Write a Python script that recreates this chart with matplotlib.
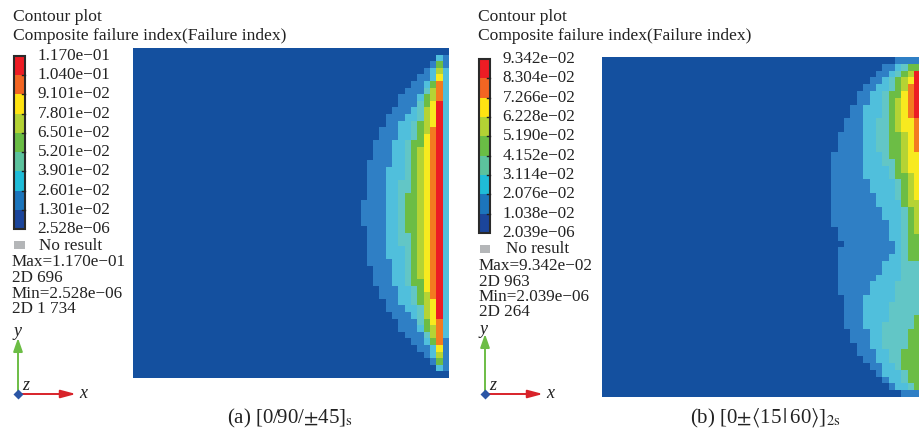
import numpy as np
import matplotlib
matplotlib.use("Agg")
import matplotlib.pyplot as plt
from matplotlib.colors import ListedColormap
from matplotlib.patches import Rectangle

plt.rcParams['font.family'] = ['Liberation Serif', 'DejaVu Serif']
plt.rcParams['mathtext.fontset'] = 'stix'

band_colors = ['#14509f', '#2f7fc5', '#50bfdc', '#62c6c6', '#6cbd45',
               '#b5d334', '#f8ea1f', '#f37a20', '#ec1c24']
bar_colors = ['#ed1c24', '#f26522', '#ffe312', '#b3d234', '#6abd45',
              '#5cc29d', '#1fbcd8', '#1c75bc', '#1b459b']

a_labels = ['1.170e−01', '1.040e−01', '9.101e−02', '7.801e−02', '6.501e−02',
            '5.201e−02', '3.901e−02', '2.601e−02', '1.301e−02', '2.528e−06']
b_labels = ['9.342e−02', '8.304e−02', '7.266e−02', '6.228e−02', '5.190e−02',
            '4.152e−02', '3.114e−02', '2.076e−02', '1.038e−02', '2.039e−06']
a_stats = ['Max=1.170e−01', '2D 696', 'Min=2.528e−06', '2D 1 734']
b_stats = ['Max=9.342e−02', '2D 963', 'Min=2.039e−06', '2D 264']

# first column of each band, one entry per element row (50 = band absent)
a_blue = [50, 48, 47, 46, 45, 44, 43, 42, 42, 41, 40, 40, 39, 39, 38, 38, 38, 37, 37, 37, 37, 37, 37, 36, 36,
          36, 36, 37, 37, 37, 37, 37, 37, 38, 38, 38, 39, 39, 40, 40, 41, 42, 42, 43, 44, 45, 46, 47, 48, 50]
a_cyan = [50, 48, 48, 47, 47, 46, 46, 45, 45, 44, 43, 42, 42, 42, 41, 41, 41, 41, 40, 40, 40, 40, 40, 40, 40,
          40, 40, 40, 40, 40, 40, 40, 41, 41, 41, 41, 42, 42, 42, 43, 44, 45, 45, 46, 46, 47, 47, 48, 48, 50]
a_teal = [50, 50, 48, 48, 48, 47, 46, 46, 45, 45, 45, 44, 44, 44, 43, 43, 43, 43, 43, 43, 42, 42, 42, 42, 42,
          42, 42, 42, 42, 42, 43, 43, 43, 43, 43, 43, 44, 44, 44, 45, 45, 45, 46, 46, 47, 48, 48, 48, 50, 50]
a_green = [50, 50, 48, 48, 48, 47, 47, 46, 46, 46, 46, 45, 45, 45, 44, 44, 44, 44, 44, 44, 44, 44, 43, 43, 43,
           43, 43, 43, 44, 44, 44, 44, 44, 44, 44, 44, 45, 45, 45, 46, 46, 46, 46, 47, 47, 48, 48, 48, 50, 50]
a_lime = [50, 50, 50, 48, 48, 48, 47, 47, 47, 46, 46, 46, 46, 46, 46, 45, 45, 45, 45, 45, 45, 45, 45, 45, 45,
          45, 45, 45, 45, 45, 45, 45, 45, 45, 45, 46, 46, 46, 46, 46, 46, 47, 47, 47, 48, 48, 48, 50, 50, 50]
a_yellow = [50, 50, 50, 50, 48, 48, 48, 48, 47, 47, 47, 47, 47, 46, 46, 46, 46, 46, 46, 46, 46, 46, 46, 46, 46,
            46, 46, 46, 46, 46, 46, 46, 46, 46, 46, 46, 46, 47, 47, 47, 47, 47, 48, 48, 48, 48, 50, 50, 50, 50]
a_orange = [50, 50, 50, 50, 50, 48, 48, 48, 48, 48, 48, 48, 47, 47, 47, 47, 47, 47, 47, 47, 47, 47, 47, 47, 47,
            47, 47, 47, 47, 47, 47, 47, 47, 47, 47, 47, 47, 47, 48, 48, 48, 48, 48, 48, 48, 50, 50, 50, 50, 50]
a_red = [50, 50, 50, 50, 50, 50, 50, 50, 48, 48, 48, 48, 48, 48, 48, 48, 48, 48, 48, 48, 48, 48, 48, 48, 48,
         48, 48, 48, 48, 48, 48, 48, 48, 48, 48, 48, 48, 48, 48, 48, 48, 50, 50, 50, 50, 50, 50, 50, 50, 50]
# last column of panel (a) has its own level
a_edge = [0, 1, 1, 2, 2, 2, 2, 2, 2, 2, 2, 2, 2, 2, 2, 2, 2, 2, 2, 2, 2, 2, 2, 2, 2,
          2, 2, 2, 2, 2, 2, 2, 2, 2, 2, 2, 2, 2, 2, 2, 2, 2, 2, 2, 1, 1, 1, 1, 1, 0]

b_blue = [46, 44, 43, 42, 41, 40, 40, 39, 39, 38, 38, 37, 37, 37, 36, 36, 36, 36, 36, 36, 36, 36, 36, 36, 36,
          37, 37, 38, 37, 37, 37, 37, 37, 37, 37, 38, 38, 38, 38, 38, 39, 39, 40, 40, 41, 42, 43, 44, 45, 47]
b_cyan = [50, 46, 45, 44, 43, 42, 42, 41, 41, 41, 41, 41, 41, 41, 41, 41, 41, 41, 42, 42, 43, 43, 44, 44, 45,
          45, 45, 46, 46, 45, 44, 44, 43, 42, 42, 41, 41, 41, 41, 41, 42, 42, 42, 43, 43, 44, 44, 45, 46, 50]
b_teal = [50, 47, 46, 45, 45, 44, 44, 44, 44, 43, 43, 43, 43, 43, 44, 44, 45, 45, 46, 46, 46, 47, 47, 47, 47,
          47, 47, 47, 47, 47, 47, 47, 47, 46, 46, 46, 45, 45, 45, 44, 44, 44, 44, 45, 45, 46, 47, 47, 48, 50]
b_green = [50, 48, 47, 46, 46, 45, 45, 45, 45, 45, 45, 45, 45, 45, 45, 46, 46, 46, 47, 47, 47, 47, 48, 48, 48,
           48, 48, 48, 48, 48, 50, 50, 50, 50, 50, 50, 50, 50, 49, 49, 48, 48, 48, 47, 47, 47, 48, 48, 49, 50]
b_lime = [50, 50, 48, 47, 47, 47, 46, 46, 46, 46, 46, 47, 47, 47, 47, 47, 47, 48, 48, 48, 48, 48, 49, 49, 49,
          49, 50, 50, 50, 50, 50, 50, 50, 50, 50, 50, 50, 50, 50, 50, 50, 50, 50, 50, 50, 50, 50, 50, 50, 50]
b_yellow = [50, 50, 50, 48, 48, 47, 47, 47, 47, 47, 47, 48, 48, 48, 48, 48, 48, 49, 49, 49, 49, 50, 50, 50, 50,
            50, 50, 50, 50, 50, 50, 50, 50, 50, 50, 50, 50, 50, 50, 50, 50, 50, 50, 50, 50, 50, 50, 50, 50, 50]
b_orange = [50, 50, 49, 49, 48, 48, 48, 48, 48, 49, 49, 49, 49, 49, 50, 50, 50, 50, 50, 50, 50, 50, 50, 50, 50,
            50, 50, 50, 50, 50, 50, 50, 50, 50, 50, 50, 50, 50, 50, 50, 50, 50, 50, 50, 50, 50, 50, 50, 50, 50]
b_red = [50, 50, 49, 49, 49, 49, 49, 49, 49, 50, 50, 50, 50, 50, 50, 50, 50, 50, 50, 50, 50, 50, 50, 50, 50,
         50, 50, 50, 50, 50, 50, 50, 50, 50, 50, 50, 50, 50, 50, 50, 50, 50, 50, 50, 50, 50, 50, 50, 50, 50]


def build_field(starts, edge=None):
    field = np.zeros((50, 50), dtype=int)
    for level, band in enumerate(starts, start=1):
        for row, col in enumerate(band):
            field[row, col:] = level
    if edge is not None:
        field[:, 49] = edge
    return field


def draw_panel(ax, field, box, bar, labels, x0):
    left, right, top, bottom = box
    xe = np.linspace(left, right, 51)
    ye = np.linspace(top, bottom, 51)
    ax.pcolormesh(xe, ye, field, cmap=ListedColormap(band_colors), vmin=-0.5, vmax=8.5)

    ax.text(x0, 17, 'Contour plot', fontsize=12.6, color='#222222', va='center')
    ax.text(x0, 36, 'Composite failure index(Failure index)', fontsize=12.6, color='#222222', va='center')

    # colour bar
    bx, by, bw, bh = bar
    step = bh / 9
    for i, c in enumerate(bar_colors):
        ax.add_patch(Rectangle((bx, by + i * step), bw, step, fc=c, ec='none'))
        if i:
            ax.plot([bx + bw * 0.72, bx + bw], [by + i * step] * 2, color='#222222', lw=1)
    ax.add_patch(Rectangle((bx, by), bw, bh, fc='none', ec='#2a2a2a', lw=1.5))
    for i, lab in enumerate(labels):
        ax.text(bx + 23.5, by + i * step, lab, fontsize=FS, color='#222222', va='center')


FS = 12.3
fig = plt.figure(figsize=(9.19, 4.30), dpi=100)
ax = fig.add_axes([0, 0, 1, 1])
ax.set_xlim(0, 919)
ax.set_ylim(430, 0)
ax.axis('off')

a_field = build_field([a_blue, a_cyan, a_teal, a_green, a_lime, a_yellow, a_orange, a_red], a_edge)
b_field = build_field([b_blue, b_cyan, b_teal, b_green, b_lime, b_yellow, b_orange, b_red])

draw_panel(ax, a_field, (133, 449, 48, 378), (14, 56, 11, 173), a_labels, 13)
draw_panel(ax, b_field, (602, 920.5, 57, 397), (479, 59, 11, 174), b_labels, 478)

# no result + stats blocks
ax.add_patch(Rectangle((14, 241), 11, 8, fc='#b4b6b8', ec='none'))
ax.text(39, 246, 'No result', fontsize=FS, color='#222222', va='center')
for y, s in zip([262, 278, 294, 309], a_stats):
    ax.text(12, y, s, fontsize=FS, color='#222222', va='center')

ax.add_patch(Rectangle((480, 245), 10, 8, fc='#b4b6b8', ec='none'))
ax.text(506, 249, 'No result', fontsize=FS, color='#222222', va='center')
for y, s in zip([266, 282, 297, 312.5], b_stats):
    ax.text(479, y, s, fontsize=FS, color='#222222', va='center')


def draw_triad(ox, oy, xtip, ytip, ylab):
    ax.annotate('', xy=(ox, ytip), xytext=(ox, oy),
                arrowprops=dict(arrowstyle='-|>,head_width=0.28,head_length=0.8', color='#6cbd45', lw=1.4,
                                shrinkA=0, shrinkB=0))
    ax.annotate('', xy=(xtip, oy), xytext=(ox, oy),
                arrowprops=dict(arrowstyle='-|>,head_width=0.24,head_length=0.9', color='#d8232a', lw=1.4,
                                shrinkA=0, shrinkB=0))
    ax.plot([ox], [oy], marker='D', ms=5, color='#2b55a5', mec='none', zorder=5)
    ax.text(xtip + 7, oy, 'x', fontsize=13, style='italic', color='#222222', ha='center', va='center')
    ax.text(ox - 1, ylab, 'y', fontsize=13, style='italic', color='#222222', ha='center', va='center')
    ax.text(ox + 8, oy - 8, 'z', fontsize=13, style='italic', color='#222222', ha='center', va='center')


draw_triad(18, 394, 76, 338, 331)
draw_triad(485, 394, 543, 334, 330)

# captions
ax.text(290, 418, r'(a) [0/90/$\pm$45]$_{\mathrm{s}}$', fontsize=15, color='#222222', ha='center', va='center')
ax.text(765, 418, r'(b) [0$\pm\langle$15$\,|\,$60$\rangle$]$_{\mathrm{2s}}$', fontsize=15, color='#222222', ha='center', va='center')

fig.savefig('out.png', dpi=100)
